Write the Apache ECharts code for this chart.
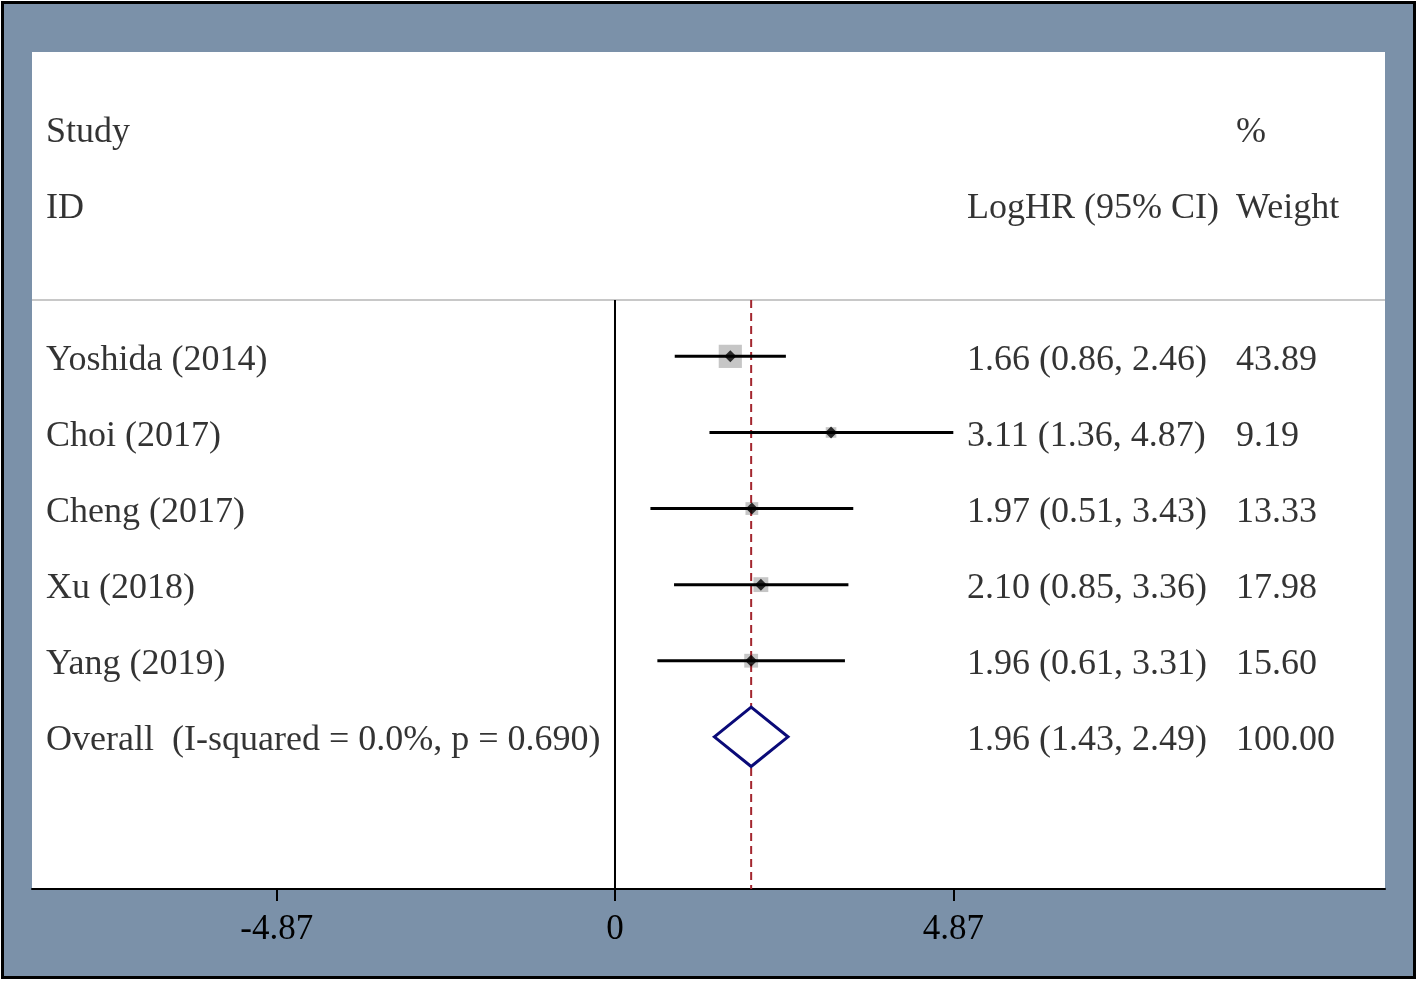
<!DOCTYPE html>
<html>
<head>
<meta charset="utf-8">
<script src="https://cdn.jsdelivr.net/npm/echarts@6/dist/echarts.min.js"></script>
<style>
html,body{margin:0;padding:0;background:#ffffff;}
#chart{width:1418px;height:982px;}
</style>
</head>
<body>
<div id="chart"></div>
<script>
// ---- data ----
const studies = ['Yoshida (2014)', 'Choi (2017)', 'Cheng (2017)', 'Xu (2018)', 'Yang (2019)'];
const estimates = [1.66, 3.11, 1.97, 2.10, 1.96];
const lowerCI = [0.86, 1.36, 0.51, 0.85, 0.61];
const upperCI = [2.46, 4.87, 3.43, 3.36, 3.31];
const weights = [43.89, 9.19, 13.33, 17.98, 15.60];
const overallLabel = 'Overall  (I-squared = 0.0%, p = 0.690)';
const overallEst = 1.96;
const overallLo = 1.43;
const overallHi = 2.49;
const overallWeight = 100.00;
const tickValues = [-4.87, 0, 4.87];
const tickLabels = ['-4.87', '0', '4.87'];
const headerStudy = ['Study', 'ID'];
const headerCI = 'LogHR (95% CI)';
const headerWeight = ['%', 'Weight'];

// ---- layout (axis units) ----
const X_MIN = -8.392, X_MAX = 11.084;
const Y_MIN = -4, Y_MAX = 7;
const COL_STUDY = -8.19, COL_CI = 5.067, COL_W = 8.94;
const HEADER_LINE = -0.74;
const FONT = "'Liberation Serif', 'Times New Roman', serif";
const FS = 36;

const fmt = v => v.toFixed(2);
const ciText = (e, l, h) => fmt(e) + ' (' + fmt(l) + ', ' + fmt(h) + ')';

const textData = [];
textData.push([COL_STUDY, -3, headerStudy[0]]);
textData.push([COL_STUDY, -2, headerStudy[1]]);
textData.push([COL_CI, -2, headerCI]);
textData.push([COL_W, -3, headerWeight[0]]);
textData.push([COL_W, -2, headerWeight[1]]);
studies.forEach((s, i) => {
  textData.push([COL_STUDY, i, s]);
  textData.push([COL_CI, i, ciText(estimates[i], lowerCI[i], upperCI[i])]);
  textData.push([COL_W, i, fmt(weights[i])]);
});
const oRow = studies.length;
textData.push([COL_STUDY, oRow, overallLabel]);
textData.push([COL_CI, oRow, ciText(overallEst, overallLo, overallHi)]);
textData.push([COL_W, oRow, fmt(overallWeight)]);

const ciData = studies.map((s, i) => [lowerCI[i], upperCI[i], i]);
const boxData = studies.map((s, i) => [estimates[i], i, weights[i]]);
const dotData = studies.map((s, i) => [estimates[i], i]);

const chart = echarts.init(document.getElementById('chart'));
chart.setOption({
  backgroundColor: 'transparent',
  animation: false,
  graphic: [{
    type: 'rect', z: -100,
    shape: {x: 2.5, y: 2.5, width: 1412, height: 975},
    style: {fill: '#7b91a9', stroke: '#000000', lineWidth: 3}
  }],
  grid: {left: 32, right: 33, top: 52, bottom: 93, show: true, backgroundColor: '#ffffff', borderWidth: 0},
  xAxis: {
    type: 'value', min: X_MIN, max: X_MAX,
    axisLine: {show: true, onZero: false, lineStyle: {color: '#000', width: 2}},
    axisTick: {show: true, customValues: tickValues, length: 12, lineStyle: {color: '#000', width: 2}},
    axisLabel: {
      customValues: tickValues, margin: 23, fontSize: 35, fontFamily: FONT, color: '#000',
      formatter: v => { const k = tickValues.findIndex(t => Math.abs(t - v) < 1e-6); return k >= 0 ? tickLabels[k] : ''; }
    },
    splitLine: {show: false}
  },
  yAxis: {type: 'value', min: Y_MIN, max: Y_MAX, inverse: true, show: false, splitLine: {show: false}},
  series: [
    {
      type: 'line', silent: true, symbol: 'none',
      data: [[X_MIN, HEADER_LINE], [X_MAX, HEADER_LINE]],
      lineStyle: {color: '#c8c8c8', width: 2}
    },
    {
      type: 'line', silent: true, symbol: 'none',
      data: [[0, HEADER_LINE], [0, Y_MAX]],
      lineStyle: {color: '#000', width: 2}
    },
    {
      type: 'line', silent: true, symbol: 'none', z: 4,
      data: [[overallEst, HEADER_LINE], [overallEst, Y_MAX]],
      lineStyle: {color: '#a3262e', width: 2, type: [8, 5]}
    },
    {
      type: 'scatter', silent: true, symbol: 'rect', z: 3,
      data: boxData,
      symbolSize: v => Math.sqrt(v[2]) * 3.5,
      itemStyle: {color: '#b8b8b8'}
    },
    {
      type: 'custom', silent: true, z: 5,
      data: ciData,
      renderItem: (params, api) => {
        const a = api.coord([api.value(0), api.value(2)]);
        const b = api.coord([api.value(1), api.value(2)]);
        return {type: 'line', shape: {x1: a[0], y1: a[1], x2: b[0], y2: b[1]},
                style: {stroke: '#000', lineWidth: 3}};
      }
    },
    {
      type: 'scatter', silent: true, symbol: 'diamond', symbolSize: 12, z: 6,
      data: dotData, itemStyle: {color: '#000'}
    },
    {
      type: 'custom', silent: true, z: 5,
      data: [[overallLo, overallEst, overallHi, oRow]],
      renderItem: (params, api) => {
        const r = api.value(3);
        const L = api.coord([api.value(0), r]);
        const T = api.coord([api.value(1), r - 0.39]);
        const R = api.coord([api.value(2), r]);
        const B = api.coord([api.value(1), r + 0.39]);
        return {type: 'polygon', shape: {points: [L, T, R, B]},
                style: {fill: '#ffffff', stroke: '#0a0a78', lineWidth: 3}};
      }
    },
    {
      type: 'scatter', silent: true, symbolSize: 0, z: 10,
      data: textData,
      label: {
        show: true, position: 'right', distance: 0, align: 'left', verticalAlign: 'middle',
        offset: [0, 4],
        fontSize: FS, fontFamily: FONT, color: '#000',
        formatter: p => p.value[2]
      }
    }
  ]
});
</script>
</body>
</html>
